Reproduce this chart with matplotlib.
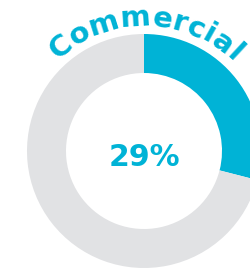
import numpy as np
import matplotlib
matplotlib.use('Agg')
import matplotlib.pyplot as plt
from matplotlib.font_manager import FontProperties

# chart data
labels = ['Commercial', 'Other']
shares = [29, 71]
title = 'Commercial'
center_label = '29%'

cyan = '#00B3D6'
grey = '#E1E2E4'

W, H = 251, 269
fig = plt.figure(figsize=(W / 100, H / 100), dpi=100)
ax = fig.add_axes([0, 0, 1, 1])

# donut, pixel coordinates with y going up
cx, cy = 144, H - 151
r_out, ring = 117, 39
ax.pie(shares, colors=[cyan, grey], startangle=90, counterclock=False,
       radius=r_out, center=(cx, cy), wedgeprops=dict(width=ring, linewidth=0))

ax.text(cx, cy - 6, center_label, ha='center', va='center', color=cyan,
        fontsize=21.5, fontweight='bold', family='DejaVu Sans')

# curved title along an arc above the ring
fp = FontProperties(family='DejaVu Sans', weight='bold', size=21)
renderer = fig.canvas.get_renderer()
widths = [renderer.get_text_width_height_descent(ch, fp, ismath=False)[0]
          for ch in title]
r_text = 125
total = sum(widths)
s = -total / 2 + 2
for ch, w in zip(title, widths):
    ang = (s + w / 2) / r_text  # radians from vertical, clockwise
    x = cx + r_text * np.sin(ang)
    y = cy + r_text * np.cos(ang)
    ax.text(x, y, ch, ha='center', va='baseline', rotation=-np.degrees(ang),
            rotation_mode='anchor', color=cyan, fontproperties=fp)
    s += w

ax.set_xlim(0, W)
ax.set_ylim(0, H)
ax.set_aspect('equal')
ax.axis('off')
fig.savefig('out.png', dpi=100)
